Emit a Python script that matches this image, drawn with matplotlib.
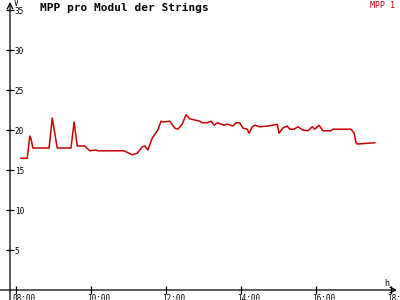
import numpy as np
import matplotlib
matplotlib.use('Agg')
import matplotlib.pyplot as plt
import matplotlib.transforms as mtrans

# data
times = ['08:08', '08:18', '08:22', '08:24', '08:27', '08:53', '08:58', '09:06',
         '09:28', '09:33', '09:38', '09:50', '09:58', '10:08', '10:11', '10:53',
         '11:06', '11:14', '11:22', '11:26', '11:31', '11:38', '11:47', '11:52',
         '11:55', '12:06', '12:14', '12:19', '12:26', '12:32', '12:38', '12:46',
         '12:54', '12:58', '13:06', '13:12', '13:17', '13:22', '13:33', '13:38',
         '13:47', '13:52', '13:58', '14:03', '14:10', '14:13', '14:18', '14:22',
         '14:30', '14:43', '14:58', '15:01', '15:07', '15:14', '15:18', '15:25',
         '15:31', '15:39', '15:47', '15:54', '15:58', '16:05', '16:11', '16:24',
         '16:27', '16:56', '17:01', '17:04', '17:06', '17:34']
volts = [16.46, 16.46, 19.25, 18.9, 17.75, 17.75, 21.5, 17.75, 17.75, 21.0,
         18.0, 18.0, 17.4, 17.5, 17.4, 17.4, 16.9, 17.1, 17.9, 18.0,
         17.5, 19.0, 20.0, 21.1, 21.0, 21.1, 20.25, 20.1, 20.75, 21.9,
         21.4, 21.25, 21.1, 20.9, 20.9, 21.1, 20.6, 20.9, 20.6, 20.75,
         20.5, 20.9, 20.9, 20.25, 20.1, 19.6, 20.4, 20.6, 20.4, 20.5,
         20.7, 19.6, 20.25, 20.5, 20.1, 20.1, 20.4, 20.0, 19.9, 20.4,
         20.1, 20.6, 19.9, 19.9, 20.1, 20.1, 19.6, 18.4, 18.25, 18.4]
xticks = [8, 10, 12, 14, 16, 18]
xticklabels = ['08:00', '10:00', '12:00', '14:00', '16:00', '18:']
yticks = [5, 10, 15, 20, 25, 30, 35]

hours = np.array([int(t[:2]) + int(t[3:]) / 60 for t in times])

plt.rcParams['font.family'] = 'DejaVu Sans Mono'

fig = plt.figure(figsize=(4, 3), dpi=100)
ax = fig.add_axes([10 / 400, 10 / 300, 387 / 400, 280 / 300])
ax.set_xlim(7.84, 7.84 + 387 / 37.5)
ax.set_ylim(0, 35)

red = '#c80000'
ax.plot(hours, volts, color=red, lw=1.1)

for s in ax.spines.values():
    s.set_visible(False)

# axis lines with arrows
ax.annotate('', xy=(1.0, 0), xytext=(-10 / 387, 0), xycoords='axes fraction',
            arrowprops=dict(arrowstyle='->', color='black', lw=0.9,
                            shrinkA=0, shrinkB=0), annotation_clip=False)
ax.annotate('', xy=(0, 1 + 8 / 280), xytext=(0, -10 / 280), xycoords='axes fraction',
            arrowprops=dict(arrowstyle='->', color='black', lw=0.9,
                            shrinkA=0, shrinkB=0), annotation_clip=False)

ax.set_xticks(xticks)
ax.set_xticklabels(xticklabels)
ax.set_yticks(yticks)
ax.tick_params(axis='both', direction='inout', length=6, width=0.9,
               labelsize=5.5, color='black', pad=0)
for lab in ax.get_xticklabels():
    lab.set_horizontalalignment('left')
    lab.set_transform(lab.get_transform() +
                      mtrans.ScaledTranslation(-4 / 100, 0, fig.dpi_scale_trans))
for lab in ax.get_yticklabels():
    lab.set_horizontalalignment('left')
    lab.set_transform(lab.get_transform() +
                      mtrans.ScaledTranslation(9 / 100, 0, fig.dpi_scale_trans))

fig.text(40 / 400, 1 - 8 / 300, 'MPP pro Modul der Strings', fontsize=8,
         fontweight='bold', va='center', ha='left')
fig.text(395 / 400, 1 - 1 / 300, 'MPP 1', fontsize=6, color=red,
         va='top', ha='right')
fig.text(14 / 400, 1 - 3 / 300, 'V', fontsize=5.5, va='center', ha='left')
fig.text(384 / 400, 1 - 283 / 300, 'h', fontsize=6, va='center', ha='left')

fig.savefig('out.png', dpi=100)
